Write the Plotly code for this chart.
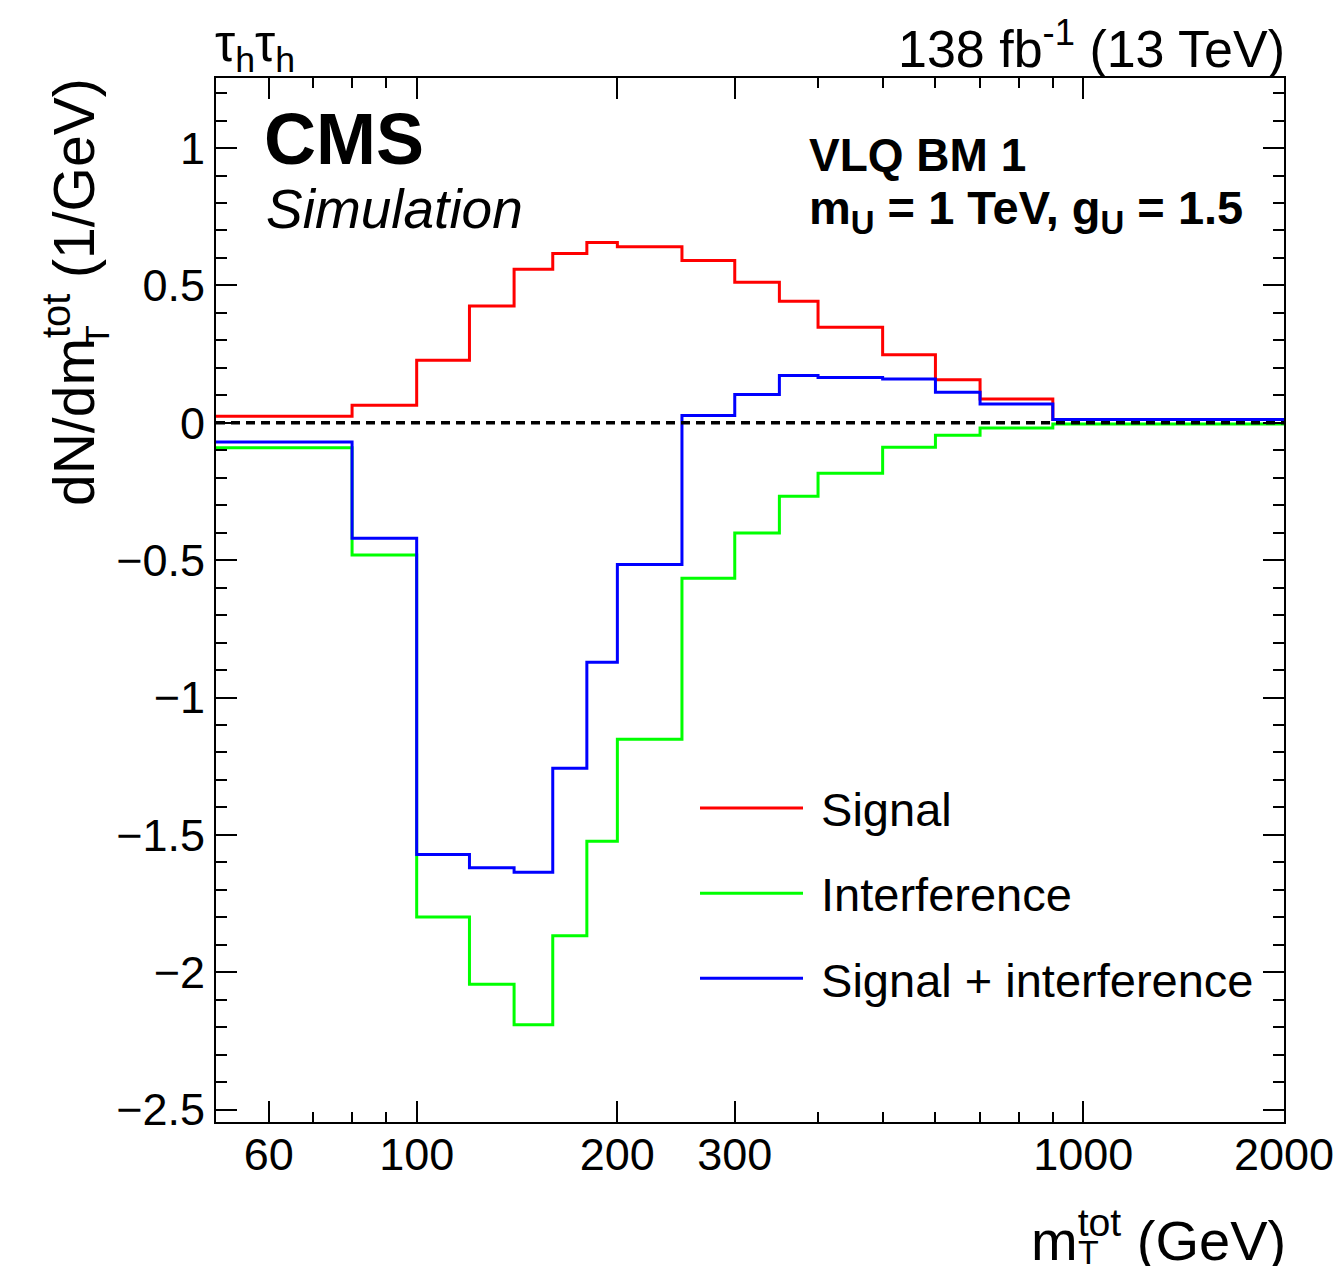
import plotly.graph_objects as go

# ---------------- data ----------------
edges = [50, 80, 100, 120, 140, 160, 180, 200, 250, 300, 350, 400, 500, 600, 700, 900, 2000]
signal = [0.024, 0.064, 0.228, 0.425, 0.559, 0.616, 0.656, 0.641, 0.591, 0.512,
          0.442, 0.348, 0.248, 0.157, 0.087, 0.012]
interference = [-0.091, -0.481, -1.799, -2.044, -2.191, -1.867, -1.523, -1.152, -0.566, -0.401,
                 -0.267, -0.184, -0.089, -0.045, -0.019, -0.004]
sig_plus_int = [-0.070, -0.420, -1.571, -1.620, -1.636, -1.257, -0.872, -0.516, 0.027, 0.103,
                0.172, 0.165, 0.159, 0.111, 0.068, 0.012]

x_tickvals = [60, 100, 200, 300, 1000, 2000]
x_ticktext = ["60", "100", "200", "300", "1000", "2000"]
x_minor = [60, 70, 80, 90, 200, 300, 400, 500, 600, 700, 800, 900, 2000]
y_tickvals = [-2.5, -2, -1.5, -1, -0.5, 0, 0.5, 1]
y_ticktext = ["\u22122.5", "\u22122", "\u22121.5", "\u22121", "\u22120.5", "0", "0.5", "1"]
y_minor = [round(-2.5 + 0.1 * i, 2) for i in range(38)]

series = [
    ("Signal", signal, "#ff0000"),
    ("Interference", interference, "#00ff00"),
    ("Signal + interference", sig_plus_int, "#0000ff"),
]

FONT = "Liberation Sans, Arial, Helvetica, sans-serif"

fig = go.Figure()
for i, (name, vals, col) in enumerate(series):
    fig.add_trace(go.Scatter(
        x=edges, y=list(vals) + [vals[-1]],
        mode="lines", line=dict(color=col, width=3, shape="hv"),
        name="\u00a0" + name, legendgroup=f"g{i}",
    ))

# dashed zero line on top
fig.add_trace(go.Scatter(
    x=[edges[0], edges[-1]], y=[0, 0], mode="lines",
    line=dict(color="black", width=3.5, dash="9px,6px"),
    showlegend=False, hoverinfo="skip",
))

axis_common = dict(
    showline=True, linecolor="black", linewidth=2, mirror="ticks",
    ticks="inside", tickcolor="black", tickwidth=2, ticklen=21,
    showgrid=False, zeroline=False, tickangle=0,
    tickfont=dict(family=FONT, size=45, color="black"),
)

fig.update_xaxes(
    type="log", range=[1.69897, 3.30103],
    tickvals=x_tickvals, ticktext=x_ticktext, ticklabelstandoff=-8,
    minor=dict(tickvals=x_minor, ticks="inside", ticklen=10, tickwidth=2, tickcolor="black", showgrid=False),
    **axis_common,
)
fig.update_yaxes(
    range=[-2.545, 1.255],
    tickvals=y_tickvals, ticktext=y_ticktext,
    minor=dict(tickvals=y_minor, ticks="inside", ticklen=11, tickwidth=2, tickcolor="black", showgrid=False),
    **axis_common,
)

W, H = 1340, 1266
L, R, T, B = 216, 56, 78, 144
pw, ph = W - L - R, H - T - B


def px(x):
    return (x - L) / pw


def py(y):
    return (H - B - y) / ph


ann = [
    dict(text="<b>CMS</b>", x=px(262), y=py(139), xanchor="left", yanchor="middle",
         font=dict(size=72, family=FONT)),
    dict(text="<i>Simulation</i>", x=px(264), y=py(209), xanchor="left", yanchor="middle",
         font=dict(size=55, family=FONT)),
    dict(text="<b>VLQ BM 1</b>", x=px(807), y=py(155), xanchor="left", yanchor="middle",
         font=dict(size=46, family=FONT)),
    dict(text="<b>m<sub>U</sub> = 1 TeV, g<sub>U</sub> = 1.5</b>", x=px(807), y=py(211),
         xanchor="left", yanchor="middle", font=dict(size=47, family=FONT)),
    dict(text="\u03c4<sub>h</sub>\u03c4<sub>h</sub>", x=px(213), y=py(48), xanchor="left",
         yanchor="middle", font=dict(size=51, family=FONT)),
    dict(text="138 fb<sup>-1</sup> (13 TeV)", x=px(1287), y=py(45), xanchor="right",
         yanchor="middle", font=dict(size=52, family=FONT)),
    # x-axis title with stacked sub/superscript
    dict(text="m<sup>tot</sup> (GeV)", x=px(1288), y=py(1236), xanchor="right",
         yanchor="middle", font=dict(size=56, family=FONT)),
    dict(text="T", x=px(1088), y=py(1252), xanchor="center",
         yanchor="middle", font=dict(size=34, family=FONT)),
    # y-axis title with stacked sub/superscript
    dict(text="dN/dm<sup>tot</sup> (1/GeV)", x=px(70), y=py(76), xanchor="center",
         yanchor="top", textangle=-90, font=dict(size=57, family=FONT)),
    dict(text="T", x=px(97), y=py(336), xanchor="center",
         yanchor="middle", textangle=-90, font=dict(size=34, family=FONT)),
]
for a in ann:
    a.update(xref="paper", yref="paper", showarrow=False)

fig.update_layout(
    width=W, height=H,
    margin=dict(l=L, r=R, t=T, b=B, autoexpand=False),
    paper_bgcolor="white", plot_bgcolor="white",
    font=dict(family=FONT, color="black"),
    showlegend=True,
    legend=dict(
        x=px(695), y=py(771), xanchor="left", yanchor="top",
        font=dict(size=47, family=FONT, color="black"),
        bgcolor="rgba(0,0,0,0)", itemwidth=103, tracegroupgap=21,
    ),
    annotations=ann,
)

fig.write_html("out.html")
